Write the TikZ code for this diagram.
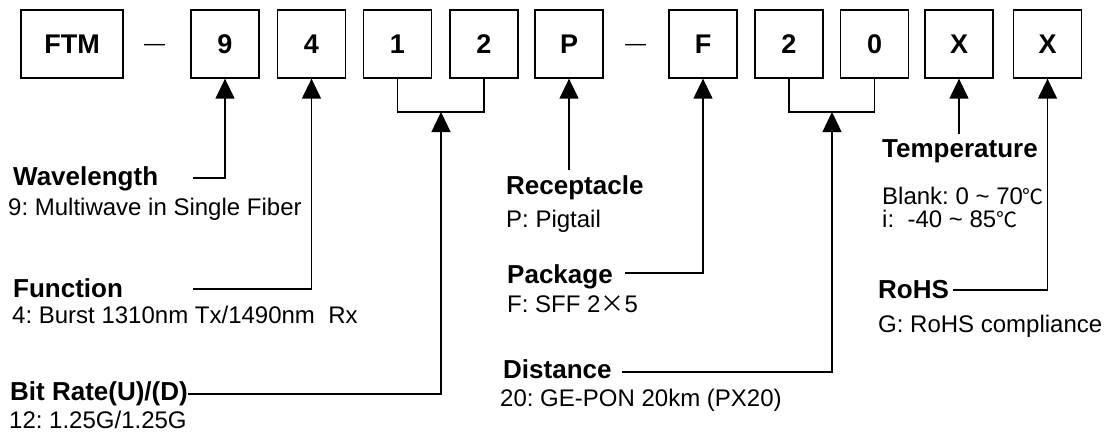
\documentclass[tikz,border=0pt]{standalone}
\usepackage{fontspec}
\setmainfont{Liberation Sans}
\newfontfamily\cjkfont{Noto Sans CJK SC}
\usetikzlibrary{arrows.meta}
\frenchspacing
\newcommand{\degc}{{\cjkfont\fontsize{21}{24}\selectfont ℃}}
\begin{document}
\begin{tikzpicture}[x=1pt,y=-1pt,
 box/.style={draw,line width=1.3pt,minimum width=68pt,minimum height=68pt,inner sep=0pt,font=\fontsize{27}{30}\selectfont\bfseries},
 head/.style={anchor=base west,inner sep=0pt,font=\fontsize{26}{30}\selectfont\bfseries},
 desc/.style={anchor=base west,inner sep=0pt,font=\fontsize{24}{28}\selectfont},
 conn/.style={line width=1.3pt},
 arr/.style={conn,-{Triangle[width=19pt,length=20pt]}},
 sepdash/.style={anchor=base,inner sep=0pt,font=\fontsize{21}{24}\selectfont}]
\path[fill=white] (0,0) rectangle (1109,436);
\useasboundingbox (0,0) rectangle (1109,436);
% code boxes
\node[box,minimum width=102pt] (bftm) at (72,44) {FTM};
\node[sepdash] (d1) at (154.5,51) {—};
\node[box] (b9) at (225,44) {9};
\node[box] (b4) at (311.5,44) {4};
\node[box] (b1) at (397.5,44) {1};
\node[box] (b2) at (484,44) {2};
\node[box] (bP) at (569,44) {P};
\node[sepdash] (d2) at (635.5,51) {—};
\node[box] (bF) at (703,44) {F};
\node[box] (b2b) at (789,44) {2};
\node[box] (b0) at (874.5,44) {0};
\node[box] (bX1) at (959,44) {X};
\node[box] (bX2) at (1047.5,44) {X};
% labels
\node[head] (wl) at (13,185) {Wavelength};
\node[desc] (wld) at (8,215) {9: Multiwave in Single Fiber};
\node[head] (fn) at (13,297) {Function};
\node[desc] (fnd) at (12,323) {4: Burst 1310nm Tx/1490nm\ \ Rx};
\node[head] (br) at (10,400) {Bit Rate(U)/(D)};
\node[desc] (brd) at (9,428) {12: 1.25G/1.25G};
\node[head] (rc) at (506,194) {Receptacle};
\node[desc] (rcd) at (506,227) {P: Pigtail};
\node[head] (pk) at (507,283) {Package};
\node[desc] (pkd) at (507,312) {F: SFF 2{\cjkfont ×}5};
\node[head] (ds) at (503,378) {Distance};
\node[desc] (dsd) at (500,406) {20: GE-PON 20km (PX20)};
\node[head] (tp) at (882,157) {Temperature};
\node[desc] (tpa) at (882,204) {Blank: 0 \textasciitilde{} 70\degc};
\node[desc] (tpb) at (882,227) {i:\ \ -40 \textasciitilde{} 85\degc};
\node[head] (rh) at (878,298) {RoHS};
\node[desc] (rhd) at (878,332) {G: RoHS compliance};
% connectors
\coordinate (c9) at (193,178);
\draw[arr] (c9) -| (b9.south);
\coordinate (c4) at (193,289);
\draw[arr] (c4) -| (b4.south);
\coordinate (j12) at (441,112);
\draw[conn] (b1.south) |- (j12) -| (b2.south);
\coordinate (cbr) at (188,394);
\draw[arr] (cbr) -| (j12);
\coordinate (cP) at (569,170);
\draw[arr] (cP) -- (bP.south);
\coordinate (cF) at (625,273);
\draw[arr] (cF) -| (bF.south);
\coordinate (j20) at (832,112);
\draw[conn] (b2b.south) |- (j20) -| (b0.south);
\coordinate (cds) at (622,372);
\draw[arr] (cds) -| (j20);
\coordinate (cT) at (959,134);
\draw[arr] (cT) -- (bX1.south);
\coordinate (cR) at (953,290);
\draw[arr] (cR) -| (bX2.south);
\end{tikzpicture}
\end{document}
